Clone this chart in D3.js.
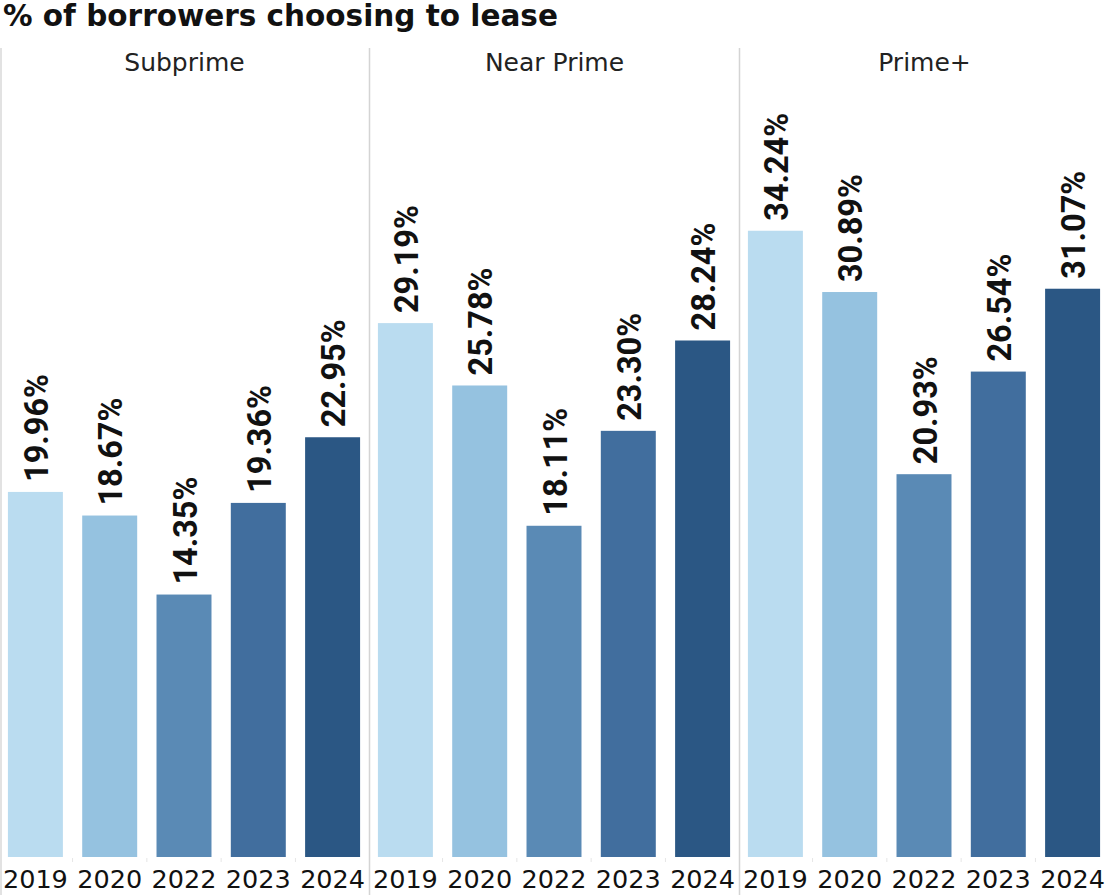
<!DOCTYPE html>
<html>
<head>
<meta charset="utf-8">
<script src="https://cdn.jsdelivr.net/npm/d3@7"></script>
<style>
  html, body { margin: 0; padding: 0; background: #ffffff; }
  svg { display: block; }
</style>
</head>
<body>
<div id="chart"></div>
<script>
// Share of borrowers choosing to lease, by credit tier and year
const tiers = ["Subprime", "Near Prime", "Prime+"];
const years = ["2019", "2020", "2022", "2023", "2024"];
const subprime = [19.96, 18.67, 14.35, 19.36, 22.95];
const nearPrime = [29.19, 25.78, 18.11, 23.30, 28.24];
const primePlus = [34.24, 30.89, 20.93, 26.54, 31.07];
const yearColors = ["#badcf0", "#95c2e0", "#5a8ab5", "#416e9e", "#2b5784"];

const seriesByTier = [subprime, nearPrime, primePlus];

const W = 1108, H = 895;
const svg = d3.select("#chart").append("svg")
  .attr("width", W).attr("height", H);

// Title
svg.append("text")
  .attr("x", 3).attr("y", 26)
  .attr("font-family", "DejaVu Sans, sans-serif")
  .attr("font-weight", "bold")
  .attr("font-size", 29.5)
  .attr("fill", "#111")
  .text("% of borrowers choosing to lease");

// Panel (facet) scale
const panelX = d3.scaleBand().domain(tiers).range([0, 1110]);
// Bars inside a panel
const x = d3.scaleBand().domain(years).range([-1, 369])
  .paddingInner(0.26).paddingOuter(0.12);
// Shared value axis
const y = d3.scaleLinear().domain([0, 42]).range([857, 857 - 42 * 18.29]);
const color = d3.scaleOrdinal().domain(years).range(yearColors);

const panelTop = 48;

// Panel separators
svg.append("line")
  .attr("x1", 1).attr("x2", 1).attr("y1", panelTop).attr("y2", H)
  .attr("stroke", "#d9d9d9").attr("stroke-width", 1.5);
tiers.slice(1).forEach(t => {
  const px = panelX(t) - 0.5;
  svg.append("line")
    .attr("x1", px).attr("x2", px).attr("y1", panelTop).attr("y2", H)
    .attr("stroke", "#d4d4d4").attr("stroke-width", 1.5);
});

tiers.forEach((tier, ti) => {
  const g = svg.append("g").attr("transform", `translate(${panelX(tier)},0)`);
  const rows = years.map((yr, i) => ({ year: yr, value: seriesByTier[ti][i] }));

  // Panel header
  g.append("text")
    .attr("x", 184.5).attr("y", 71)
    .attr("text-anchor", "middle")
    .attr("font-family", "DejaVu Sans, sans-serif")
    .attr("font-size", 25)
    .attr("fill", "#222")
    .text(tier);

  // Bars
  g.selectAll("rect.bar").data(rows).join("rect")
    .attr("class", "bar")
    .attr("x", d => x(d.year))
    .attr("width", x.bandwidth())
    .attr("y", d => y(d.value))
    .attr("height", d => y(0) - y(d.value))
    .attr("fill", d => color(d.year));

  // Value labels, rotated
  g.selectAll("text.val").data(rows).join("text")
    .attr("class", "val")
    .attr("transform", d => `translate(${x(d.year) + x.bandwidth() / 2 + 1},${y(d.value) - 10}) rotate(-90)`)
    .attr("dy", "0.36em")
    .attr("text-anchor", "start")
    .attr("font-family", "Roboto, sans-serif")
    .attr("font-weight", "bold")
    .attr("font-size", 32.5)
    .attr("fill", "#111")
    .text(d => d3.format(".2f")(d.value) + "%");

  // Year axis
  const axis = g.append("g").attr("transform", `translate(0,${y(0)})`)
    .call(d3.axisBottom(x).tickSize(0).tickPadding(0));
  axis.select(".domain").remove();
  axis.selectAll("text")
    .attr("y", 31).attr("dy", 0)
    .attr("font-family", "DejaVu Sans, sans-serif")
    .attr("font-size", 25.5)
    .attr("fill", "#111");

  // Faint dividers between year columns
  g.selectAll("line.div").data(years.slice(1)).join("line")
    .attr("class", "div")
    .attr("x1", d => x(d) - x.step() * x.paddingInner() / 2)
    .attr("x2", d => x(d) - x.step() * x.paddingInner() / 2)
    .attr("y1", y(0) + 1).attr("y2", y(0) + 5)
    .attr("stroke", "#e6e6e6").attr("stroke-width", 1);
});
</script>
</body>
</html>
